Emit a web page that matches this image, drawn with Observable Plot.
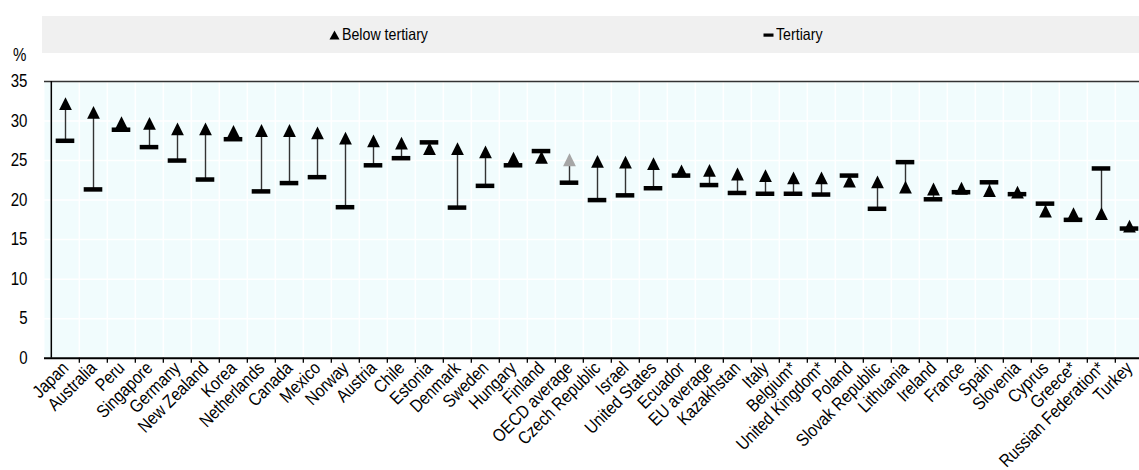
<!DOCTYPE html>
<html>
<head>
<meta charset="utf-8">
<script src="https://cdn.jsdelivr.net/npm/d3@7"></script>
<script src="https://cdn.jsdelivr.net/npm/@observablehq/plot@0.6"></script>
<style>
  html, body { margin: 0; padding: 0; background: white; }
  #head { position: relative; width: 1139px; height: 60px; font-family: "Liberation Sans", Arial, sans-serif; }
  #head .bar { position: absolute; left: 42px; top: 16px; width: 1097px; height: 37px; background: #f0f0f0; }
  #head .pct { position: absolute; left: 13px; top: 45px; color: #000; }
  #head .item { position: absolute; top: 16px; height: 37px; display: flex; align-items: center; color: #000; white-space: nowrap; }
  #head .item svg { margin-right: 2px; flex: none; }
  #head .cond { display: inline-block; transform-origin: left center; }
</style>
</head>
<body>
<div id="head"></div>
<div id="chart"></div>
<script>
const categories = ["Japan","Australia","Peru","Singapore","Germany","New Zealand","Korea","Netherlands","Canada","Mexico","Norway","Austria","Chile","Estonia","Denmark","Sweden","Hungary","Finland","OECD average","Czech Republic","Israel","United States","Ecuador","EU average","Kazakhstan","Italy","Belgium*","United Kingdom*","Poland","Slovak Republic","Lithuania","Ireland","France","Spain","Slovenia","Cyprus","Greece*","Russian Federation*","Turkey"];
const belowTertiary = [32.2,31.1,29.8,29.7,29.0,29.0,28.7,28.8,28.8,28.5,27.85,27.5,27.2,26.5,26.5,26.1,25.3,25.4,25.1,24.9,24.8,24.6,23.7,23.75,23.3,23.1,22.8,22.8,22.4,22.3,21.65,21.4,21.5,21.2,21.0,18.6,18.3,18.3,16.7];
const tertiary = [27.5,21.35,28.9,26.7,25.0,22.6,27.7,21.1,22.15,22.9,19.1,24.4,25.3,27.3,19.05,21.8,24.4,26.2,22.2,20.0,20.6,21.5,23.1,21.9,20.9,20.8,20.8,20.7,23.1,18.9,24.8,20.1,21.0,22.25,20.75,19.55,17.5,24.0,16.4];
const highlighted = ["OECD average"];
const yTicks = [0,5,10,15,20,25,30,35];
const seriesLabels = ["Below tertiary","Tertiary"];
const unitLabel = "%";

const FONT = '"Liberation Sans", Arial, sans-serif';
const S = 0.86;          // horizontal condensing of text (narrow face look)
const fsY = 17.5, fsX = 18, fsLeg = 16.5;

const data = categories.map((c, i) => ({cat: c, below: belowTertiary[i], tert: tertiary[i]}));

const W = 1139, H = 410, mL = 44, mR = -11, mT = 21, mB = 112.3;
const bw = (W - mL - mR) / categories.length;

const tri = {
  draw(ctx, size) {
    const r = Math.sqrt(size / Math.PI);
    ctx.moveTo(0, -r);
    ctx.lineTo(r, r);
    ctx.lineTo(-r, r);
    ctx.closePath();
  }
};

// header / legend
const head = document.getElementById("head");
head.innerHTML = `<div class="bar"></div><div class="pct" style="font-size:${fsY}px"><span class="cond" style="transform:scaleX(${S})">${unitLabel}</span></div>`;
const legendX = [329, 763];
const icons = [
  `<svg width="11" height="10"><path d="M5.5,0.5 L10.5,9.5 L0.5,9.5 Z" fill="black"/></svg>`,
  `<svg width="11" height="10"><rect x="0.5" y="3.5" width="10" height="3.2" fill="black"/></svg>`
];
seriesLabels.forEach((s, i) => {
  const d = document.createElement("div");
  d.className = "item";
  d.style.left = legendX[i] + "px";
  d.style.fontSize = fsLeg + "px";
  d.innerHTML = icons[i] + `<span class="cond" style="transform:scaleX(${S})">${s}</span>`;
  head.appendChild(d);
});

const chart = Plot.plot({
  width: W, height: H,
  marginLeft: mL, marginRight: mR, marginTop: mT, marginBottom: mB,
  style: {fontFamily: FONT, background: "transparent", color: "black"},
  x: {domain: categories, padding: 0},
  y: {domain: [0, 35]},
  color: {type: "identity"},
  marks: [
    Plot.frame({fill: "#f1fcfd", stroke: "none"}),
    Plot.gridY(yTicks, {stroke: "white", strokeOpacity: 1, strokeWidth: 1.5}),
    Plot.ruleX(categories.slice(1), {x: d => d, dx: -bw / 2, stroke: "white", strokeWidth: 1.5}),
    Plot.ruleX(categories.slice(1), {x: d => d, dx: -bw / 2, y1: 0, y2: 0, insetBottom: -5, stroke: "black", strokeWidth: 1.3}),
    Plot.ruleY([35], {stroke: "#333", strokeWidth: 1.3}),
    Plot.ruleX([categories[0]], {x: d => d, dx: -bw / 2, stroke: "black", strokeWidth: 1.5}),
    Plot.ruleY([0], {stroke: "black", strokeWidth: 2}),
    Plot.ruleX(data, {x: "cat", y1: "tert", y2: "below", stroke: "#333", strokeWidth: 1.4}),
    Plot.tickY(data, {x: "cat", y: "tert", stroke: "black", strokeWidth: 4.5, insetLeft: 4.7, insetRight: 4.7}),
    Plot.dot(data, {x: "cat", y: "below", symbol: tri, r: 6.4, fill: d => highlighted.includes(d.cat) ? "#a6a6a6" : "black", stroke: "none"}),
    Plot.axisY({ticks: yTicks, tickSize: 0, tickPadding: 17, fontSize: fsY, label: null}),
    Plot.axisX({tickSize: 0, tickRotate: -45, tickPadding: 7, fontSize: fsX, label: null})
  ]
});
// condense text horizontally around each label's anchor
chart.querySelectorAll("text").forEach(t => {
  const tr = t.getAttribute("transform") || "";
  t.setAttribute("transform", (tr + ` scale(${S},1)`).trim());
  const x = t.getAttribute("x");
  if (x && +x) t.setAttribute("x", +x / S);
});
document.getElementById("chart").appendChild(chart);
</script>
</body>
</html>
